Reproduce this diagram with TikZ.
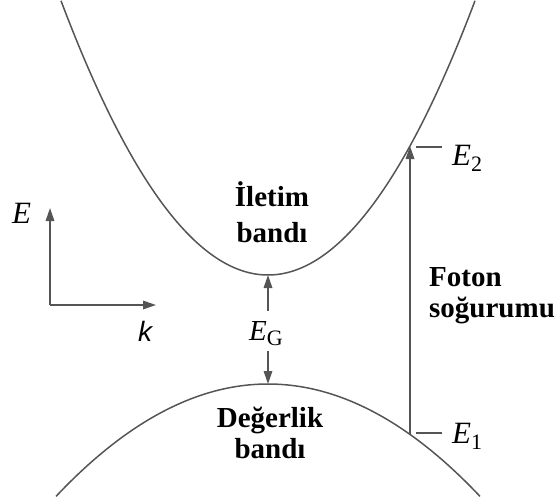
\documentclass[tikz,border=0pt]{standalone}
\usepackage{fontspec}
\setmainfont{Liberation Serif}
\setsansfont{Liberation Sans}
\usetikzlibrary{arrows.meta}
\definecolor{linegray}{HTML}{555555}
\begin{document}
\begin{tikzpicture}[x=1pt,y=-1pt,
  band/.style={draw=linegray,line width=1.5pt},
  arr/.style={draw=linegray,line width=1.7pt,-{Triangle[length=13pt,width=8.5pt]}},
  tick/.style={draw=linegray,line width=1.7pt},
  lbl/.style={font=\fontsize{29}{31}\selectfont\bfseries,inner sep=0pt},
  elbl/.style={font=\fontsize{31}{31}\selectfont\itshape,inner sep=0pt,anchor=base west}]
\useasboundingbox (0,0) rectangle (559,501);
% bands
\draw[band] plot[domain=61:475,samples=120] (\x,{275-(0.08*(\x-268))^2});
\draw[band] plot[domain=56:480,samples=120] (\x,{384+(0.05*(\x-268))^2});
% key points
\coordinate (cb) at (268,275);
\coordinate (vb) at (268,384);
\coordinate (gtop) at (268,311);
\coordinate (gbot) at (268,351);
\coordinate (e2) at (410,146);
\coordinate (e1) at (410,434);
\coordinate (t2a) at (416,147);
\coordinate (t2b) at (442,147);
\coordinate (t1a) at (416,433);
\coordinate (t1b) at (442,433);
\coordinate (o) at (50,305);
\coordinate (ey) at (50,208);
\coordinate (kx) at (156,305);
% axes
\draw[arr] (o) -- (ey);
\draw[arr] (o) -- (kx);
\node[elbl] (E) at (12,223) {E};
\node[inner sep=0pt,anchor=base,font=\fontsize{28}{28}\selectfont\sffamily\itshape] (k) at (145,341) {k};
% gap
\node[inner sep=0pt,anchor=base west,font=\fontsize{29}{29}\selectfont] (EG) at (249,340) {\textit{E}\raisebox{-5pt}{\fontsize{22}{22}\selectfont G}};
\draw[arr] (gtop) -- (cb);
\draw[arr] (gbot) -- (vb);
% photon
\draw[arr] (e1) -- (e2);
\draw[tick] (t2a) -- (t2b);
\draw[tick] (t1a) -- (t1b);
\node[elbl] (E2) at (452,165) {E\raisebox{-6pt}{\fontsize{22}{22}\selectfont\upshape 2}};
\node[elbl] (E1) at (452,443) {E\raisebox{-6pt}{\fontsize{22}{22}\selectfont\upshape 1}};
% texts
\node[lbl,align=center,font=\fontsize{29}{36}\selectfont\bfseries] (cbt) at (272,212) {İletim\\bandı};
\node[lbl,align=center] (vbt) at (270,433) {Değerlik\\bandı};
\node[lbl,align=left,anchor=west] (ft) at (429,296) {Foton\\soğurumu};
\end{tikzpicture}
\end{document}
